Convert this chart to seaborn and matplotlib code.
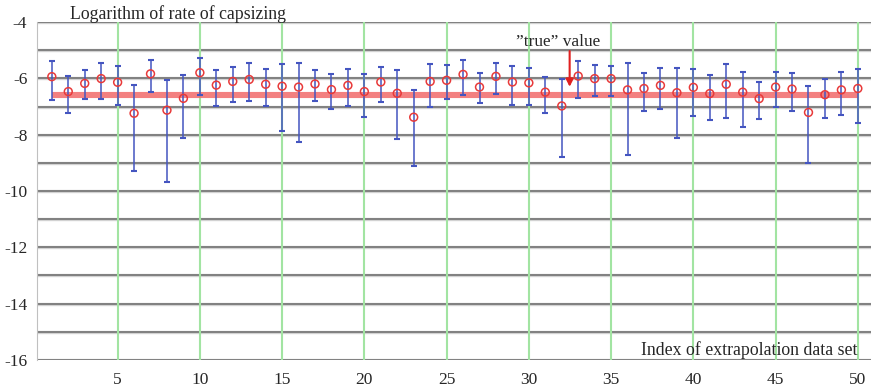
import numpy as np
import pandas as pd
import matplotlib
matplotlib.use("Agg")
import matplotlib.pyplot as plt
import seaborn as sns

# ---- data ----
index = list(range(1, 51))
estimate = [-5.94, -6.47, -6.18, -6.01, -6.14, -7.24, -5.84, -7.13, -6.71, -5.80,
            -6.24, -6.11, -6.04, -6.21, -6.28, -6.31, -6.20, -6.40, -6.25, -6.47,
            -6.13, -6.53, -7.38, -6.11, -6.07, -5.86, -6.31, -5.93, -6.13, -6.16,
            -6.49, -6.98, -5.92, -6.01, -6.01, -6.41, -6.36, -6.25, -6.51, -6.32,
            -6.54, -6.21, -6.49, -6.72, -6.31, -6.38, -7.21, -6.58, -6.41, -6.36]
upper = [-5.40, -5.93, -5.72, -5.46, -5.55, -6.22, -5.35, -6.05, -5.89, -5.29,
         -5.69, -5.59, -5.46, -5.66, -5.48, -5.44, -5.72, -5.85, -5.68, -5.85,
         -5.59, -5.69, -6.40, -5.48, -5.53, -5.36, -5.81, -5.46, -5.55, -5.62,
         -5.95, -6.01, -5.40, -5.52, -5.56, -5.46, -5.82, -5.62, -5.65, -5.66,
         -5.89, -5.48, -5.76, -6.12, -5.79, -5.80, -6.27, -6.01, -5.79, -5.66]
lower = [-6.78, -7.22, -6.73, -6.75, -6.94, -9.28, -6.49, -9.67, -8.12, -6.58,
         -6.98, -6.85, -6.82, -6.99, -7.88, -8.26, -6.82, -7.08, -6.98, -7.39,
         -6.85, -8.14, -9.11, -7.02, -6.75, -6.58, -6.88, -6.56, -6.93, -6.95,
         -7.22, -8.78, -6.71, -6.62, -6.62, -8.73, -7.15, -7.08, -8.12, -7.34,
         -7.49, -7.42, -7.73, -7.46, -7.01, -7.15, -9.00, -7.40, -7.29, -7.59]
true_value = -6.58
true_span = [1, 50]
y_ticks = [-4, -6, -8, -10, -12, -14, -16]
x_ticks = [5, 10, 15, 20, 25, 30, 35, 40, 45, 50]
y_label = "Logarithm of rate of capsizing"
x_label = "Index of extrapolation data set"
annot = "\u201dtrue\u201d value"

df = pd.DataFrame({"index": index, "estimate": estimate, "upper": upper, "lower": lower})

sns.set_style("white")
plt.rcParams['font.family'] = ['Liberation Serif', 'DejaVu Serif']

fig = plt.figure(figsize=(8.71, 3.89), dpi=100)
ax = fig.add_axes([0.0425, 0.0746, 0.9575, 0.8688])

ax.set_xlim(0.1, 50.8)
ax.set_ylim(-16, -4)

# grid lines
for yv in range(-16, -3):
    ax.axhline(yv, color='#d2d2d2', lw=2.4, zorder=1)
    ax.axhline(yv, color='#6a6a6a', lw=1.1, zorder=1.1)
for xv in x_ticks:
    ax.axvline(xv, color='#a2e4a2', lw=1.5, zorder=1.2)

# true value line
ax.plot(true_span, [true_value, true_value], color='#f26a6a', lw=4.4, alpha=0.85,
        solid_capstyle='butt', zorder=2)

# error bars
err_low = df["estimate"] - df["lower"]
err_up = df["upper"] - df["estimate"]
ax.errorbar(df["index"], df["estimate"], yerr=[err_low, err_up], fmt='none',
            ecolor='#4455c0', elinewidth=1.1, capsize=2.3, capthick=1.5, zorder=3)

sns.scatterplot(data=df, x="index", y="estimate", ax=ax, marker='o', s=32,
                facecolor='none', edgecolor='#e83a3a', linewidth=1.1, zorder=4,
                legend=False)

# annotation
ax.text(31.75, -4.86, annot, ha='center', va='baseline', fontsize=12.4, zorder=5)
ax.annotate("", xy=(32.48, -6.3), xytext=(32.48, -5.03),
            arrowprops=dict(arrowstyle='-|>', color='#e02020', lw=1.5,
                            mutation_scale=11, shrinkA=0, shrinkB=0),
            zorder=5)

ax.set_xticks(x_ticks)
ax.set_xticklabels([str(v) for v in x_ticks], fontsize=12.5)
ax.set_yticks(y_ticks)
ax.set_yticklabels([str(v) for v in y_ticks], fontsize=12.5)
ax.tick_params(axis='x', length=0, pad=9)
ax.tick_params(axis='y', length=0, pad=7)
ax.set_xlabel("")
ax.set_ylabel("")

for s in ['top', 'right', 'bottom']:
    ax.spines[s].set_visible(False)
ax.spines['left'].set_color('#c0c0c0')
ax.spines['left'].set_linewidth(0.8)

fig.text(70 / 871, 1 - 19 / 389, y_label, ha='left', va='baseline', fontsize=12.8)
ax.text(49.95, -15.83, x_label, ha='right', va='baseline', fontsize=12.8, zorder=5)

fig.savefig("out.png", dpi=100)
